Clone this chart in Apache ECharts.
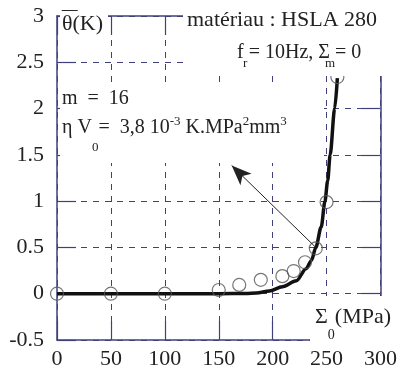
<!DOCTYPE html>
<html>
<head>
<meta charset="utf-8">
<script src="https://cdn.jsdelivr.net/npm/echarts@6/dist/echarts.min.js"></script>
<style>
  html, body { margin: 0; padding: 0; background: #fff; }
  #chart { width: 400px; height: 370px; }
</style>
</head>
<body>
<div id="chart"></div>
<script>
// Axis ticks
const xTicks = [0, 50, 100, 150, 200, 250, 300];
const yTicks = [-0.5, 0, 0.5, 1, 1.5, 2, 2.5, 3];

// Measured mean temperature rise (open circles)
const measSigma = [0, 50, 100, 150, 169, 189, 209, 219.5, 230, 240, 250, 260];
const measTheta = [0, 0, 0, 0.04, 0.095, 0.15, 0.19, 0.245, 0.34, 0.49, 0.99, 2.34];

// Model prediction (thick curve)
const modelSigma = [0, 50, 100, 150, 175, 185, 197, 209, 222, 231, 236, 240, 245, 248.5, 251, 253.3, 257.5, 260];
const modelTheta = [0, 0, 0, 0, 0.003, 0.008, 0.03, 0.076, 0.14, 0.27, 0.36, 0.5, 0.72, 1.0, 1.22, 1.5, 2.0, 2.33];

// Arrow pointing from the knee of the curve to the parameter box
const arrowFrom = [240, 0.5];
const arrowTo = [162, 1.385];

const axisColor = '#40407c';
const textColor = '#222';
const serif = 'Liberation Serif';

const chart = echarts.init(document.getElementById('chart'));

// white panels behind the annotations (they interrupt frame and grid)
const cover = (x, y, w, h) => ({
  type: 'rect', silent: true, z: 50,
  shape: { x: x, y: y, width: w, height: h },
  style: { fill: '#fff' }
});

const label = (x, y, text, size, extra, scaleX) => ({
  type: 'text', silent: true, z: 60, x: x, y: y, scaleX: scaleX || 1,
  style: Object.assign({
    text: text, fill: textColor,
    fontFamily: serif, fontSize: size,
    align: 'left', verticalAlign: 'middle'
  }, extra || {})
});

// rich styles: every token is top-aligned, offsets come from top padding
const richStyles = (mainSize, smallSize, mainPad, subPad, supPad) => ({
  n: { fontFamily: serif, fontSize: mainSize, verticalAlign: 'top', padding: [mainPad, 0, 0, 0], fill: textColor, color: textColor },
  s: { fontFamily: serif, fontSize: smallSize, verticalAlign: 'top', padding: [subPad, 0, 0, 0], fill: textColor, color: textColor },
  p: { fontFamily: serif, fontSize: smallSize, verticalAlign: 'top', padding: [supPad, 0, 0, 0], fill: textColor, color: textColor }
});

const baseXAxis = {
  type: 'value', min: xTicks[0], max: xTicks[xTicks.length - 1], interval: 50,
  axisLine: { show: true, onZero: false, lineStyle: { color: axisColor, width: 1.5 } },
  axisTick: { show: true, inside: true, length: 19, lineStyle: { color: axisColor, width: 1.2 } }
};
const baseYAxis = {
  type: 'value', min: yTicks[0], max: yTicks[yTicks.length - 1], interval: 0.5,
  axisLine: { show: true, onZero: false, lineStyle: { color: axisColor, width: 1.5 } },
  axisTick: { show: true, inside: true, length: 19, lineStyle: { color: axisColor, width: 1.2 } }
};

chart.setOption({
  animation: false,
  backgroundColor: '#fff',
  grid: { left: 57, right: 19, top: 16, bottom: 30, containLabel: false },
  xAxis: [
    Object.assign({}, baseXAxis, {
      position: 'bottom',
      axisLabel: { margin: 8, color: textColor, fontFamily: serif, fontSize: 22,
        formatter: v => String(xTicks[xTicks.indexOf(v)]) },
      splitLine: { show: true, lineStyle: { color: axisColor, width: 1, type: [6, 6] } }
    }),
    Object.assign({}, baseXAxis, {
      position: 'top', axisLabel: { show: false }, splitLine: { show: false }
    })
  ],
  yAxis: [
    Object.assign({}, baseYAxis, {
      position: 'left',
      axisLabel: { margin: 13, color: textColor, fontFamily: serif, fontSize: 22,
        formatter: v => String(yTicks[yTicks.indexOf(v)]) },
      splitLine: { show: true, lineStyle: { color: axisColor, width: 1, type: [6, 6] } }
    }),
    Object.assign({}, baseYAxis, {
      position: 'right', axisLabel: { show: false }, splitLine: { show: false }
    })
  ],
  series: [
    {
      type: 'line',
      data: modelSigma.map((s, i) => [s, modelTheta[i]]),
      symbol: 'none', showSymbol: false,
      smooth: 0.3, smoothMonotone: 'x',
      lineStyle: { color: '#111', width: 3.5 },
      z: 3,
      markLine: {
        silent: true, animation: false,
        symbol: ['none', 'arrow'], symbolSize: [12, 20],
        lineStyle: { color: '#222', width: 1, type: 'solid' },
        label: { show: false },
        data: [[{ coord: arrowFrom }, { coord: arrowTo }]]
      }
    },
    {
      type: 'scatter',
      data: measSigma.map((s, i) => [s, measTheta[i]]),
      symbol: 'circle', symbolSize: 13,
      itemStyle: { color: 'rgba(0,0,0,0)', borderColor: '#555', borderWidth: 1.2 },
      z: 4
    }
  ],
  graphic: {
    elements: [
      cover(60, 0, 48, 36),
      cover(183, 0, 217, 76),
      cover(60, 82, 264, 81),
      cover(310, 296, 90, 46),
      // ordinate title: theta with an overbar
      label(62, 24, '\u03B8(K)', 22),
      label(62, 20, '\u00AF', 22, null, 1.4),
      label(187, 20, 'matériau : HSLA 280', 22),
      label(237, 53, 'f = 10Hz, \u03A3 = 0', 20),
      label(243, 64, 'r', 13),
      label(325, 64, 'm', 13),
      label(62, 99, 'm\u2002=\u200216', 20),
      label(62, 134.5, '{n|\u03B7 V}{s|0}{n|=\u20023,8 10}{p|-3}{n| K.MPa}{p|2}{n|mm}{p|3}', 20,
        { rich: richStyles(20, 13, 3, 26, 0) }),
      label(315, 324, '{n|\u03A3}{s|0}{n|(MPa)}', 22, { rich: richStyles(22, 14, 0, 22, 0) })
    ]
  }
});
</script>
</body>
</html>
